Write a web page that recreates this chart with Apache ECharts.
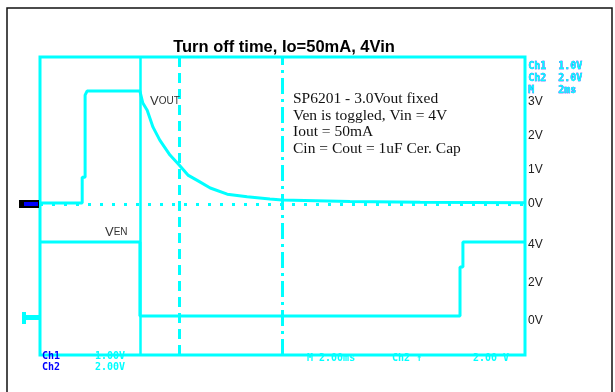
<!DOCTYPE html>
<html>
<head>
<meta charset="utf-8">
<script src="https://cdn.jsdelivr.net/npm/echarts@6/dist/echarts.min.js"></script>
<style>
  html, body { margin: 0; padding: 0; background: #fff; }
  #container { width: 615px; height: 392px; }
</style>
</head>
<body>
<div id="container"></div>
<script>
// time axis in scope divisions (0..10)
var voutX = [0, 0.87, 0.87, 0.93, 0.93, 0.97, 2.06, 2.10, 2.12, 2.21, 2.33, 2.47, 2.68, 2.87, 3.05, 3.26, 3.51, 3.86, 4.27, 4.74, 4.99, 6.39, 7.84, 10];
var voutV = [0.03, 0.03, 0.79, 0.79, 3.20, 3.32, 3.32, 3.29, 2.97, 2.76, 2.26, 1.88, 1.44, 1.15, 0.85, 0.68, 0.47, 0.29, 0.21, 0.15, 0.12, 0.07, 0.05, 0.04];
var venX = [0, 2.06, 2.06, 8.66, 8.66, 8.72, 8.72, 10];
var venV = [4.16, 4.16, 0.26, 0.26, 2.84, 2.84, 4.16, 4.16];
var cursorX = [2.06, 2.87, 4.99];
var voutTicks = ['0V', '1V', '2V', '3V'];
var venTicks = ['0V', '2V', '4V'];
var noteLines = ['SP6201 - 3.0Vout fixed', 'Ven is toggled, Vin = 4V', 'Iout = 50mA', 'Cin = Cout = 1uF Cer. Cap'];

var CYAN = '#00ffff';
var BLUE = '#0000ff';

function pairs(xs, ys) {
  var out = [];
  for (var i = 0; i < xs.length; i++) out.push([xs[i], ys[i]]);
  return out;
}

var dom = document.getElementById('container');
var chart = echarts.init(dom);

var xBase = { type: 'value', min: 0, max: 10, show: false };

var option = {
  animation: false,
  title: {
    text: 'Turn off time, Io=50mA, 4Vin',
    left: 279, top: 34, textAlign: 'center',
    textStyle: { fontFamily: 'Liberation Sans, Arial', fontSize: 16.5, fontWeight: 'bold', color: '#000' }
  },
  grid: [
    { left: 40, right: 90, top: 57, height: 298, show: true, borderColor: CYAN, borderWidth: 3, backgroundColor: 'transparent' },
    { left: 40, right: 90, top: 68, height: 136 },
    { left: 40, right: 90, top: 207, height: 114 }
  ],
  xAxis: [
    Object.assign({ gridIndex: 0 }, xBase),
    Object.assign({ gridIndex: 1 }, xBase),
    Object.assign({ gridIndex: 2 }, xBase)
  ],
  yAxis: [
    { gridIndex: 0, type: 'value', min: 0, max: 1, show: false },
    {
      gridIndex: 1, type: 'value', min: 0, max: 4, interval: 1, position: 'right',
      axisLine: { show: false }, axisTick: { show: false }, splitLine: { show: false },
      axisLabel: {
        margin: 3, fontSize: 12, color: '#222', fontFamily: 'Liberation Sans, Arial', padding: [4, 0, 0, 0],
        formatter: function (v) { return voutTicks[v] || ''; }
      }
    },
    {
      gridIndex: 2, type: 'value', min: 0, max: 6, interval: 2, position: 'right',
      axisLine: { show: false }, axisTick: { show: false }, splitLine: { show: false },
      axisLabel: {
        margin: 3, fontSize: 12, color: '#222', fontFamily: 'Liberation Sans, Arial', padding: [2, 0, 0, 0],
        formatter: function (v) { return venTicks[v / 2] || ''; }
      }
    }
  ],
  series: [
    {
      // cursors / trigger line across the whole screen
      type: 'line', xAxisIndex: 0, yAxisIndex: 0, data: [], silent: true,
      markLine: {
        symbol: 'none', silent: true, label: { show: false },
        data: [
          { xAxis: cursorX[0], lineStyle: { color: CYAN, width: 2.5, type: 'solid' } },
          { xAxis: cursorX[1], lineStyle: { color: CYAN, width: 3, type: [10, 6] } },
          { xAxis: cursorX[2], lineStyle: { color: CYAN, width: 3, type: [16, 5, 3, 5] } }
        ]
      }
    },
    {
      name: 'Vout', type: 'line', xAxisIndex: 1, yAxisIndex: 1,
      data: pairs(voutX, voutV), showSymbol: false, clip: false,
      lineStyle: { color: CYAN, width: 3 },
      markLine: {
        symbol: 'none', silent: true, label: { show: false },
        data: [{ yAxis: 0, lineStyle: { color: CYAN, width: 3, type: [3, 9] } }]
      },
      z: 3
    },
    {
      name: 'Ven', type: 'line', xAxisIndex: 2, yAxisIndex: 2,
      data: pairs(venX, venV), showSymbol: false, clip: false,
      lineStyle: { color: CYAN, width: 3 },
      z: 3
    }
  ],
  graphic: [
    { type: 'rect', shape: { x: 7, y: 8, width: 605, height: 400 }, style: { fill: 'none', stroke: '#111', lineWidth: 1.5 }, z: 0 },
    {
      type: 'text', left: 150, top: 95, z: 10,
      style: { text: '{a|V}{b|OUT}', rich: { a: { fontSize: 13, fill: '#333', fontFamily: 'Liberation Sans, Arial' }, b: { fontSize: 10, fill: '#333', fontFamily: 'Liberation Sans, Arial' } } }
    },
    {
      type: 'text', left: 105, top: 226, z: 10,
      style: { text: '{a|V}{b|EN}', rich: { a: { fontSize: 13, fill: '#333', fontFamily: 'Liberation Sans, Arial' }, b: { fontSize: 10, fill: '#333', fontFamily: 'Liberation Sans, Arial' } } }
    },
    {
      type: 'text', left: 293, top: 91, z: 10,
      style: { text: noteLines.join('\n'), fontFamily: 'Liberation Serif, Times New Roman', fontSize: 15.5, lineHeight: 16.5, fill: '#111' }
    },
    // channel ground markers
    { type: 'rect', shape: { x: 19, y: 200, width: 20, height: 8 }, style: { fill: '#000' }, z: 5 },
    { type: 'rect', shape: { x: 24, y: 202, width: 14, height: 4 }, style: { fill: BLUE }, z: 6 },
    { type: 'rect', shape: { x: 22, y: 315, width: 18, height: 5 }, style: { fill: CYAN }, z: 5 },
    { type: 'rect', shape: { x: 22, y: 312, width: 4, height: 12 }, style: { fill: CYAN }, z: 5 },
    // scope readout text
    { type: 'text', left: 528, top: 60, z: 10, style: { text: 'Ch1  1.0V\nCh2  2.0V\nM    2ms', fontFamily: 'DejaVu Sans Mono', fontWeight: 'bold', fontSize: 10, lineHeight: 12, fill: CYAN, stroke: BLUE, lineWidth: 0.4 } },
    { type: 'text', left: 42, top: 351, z: 10, style: { text: 'Ch1\nCh2', fontFamily: 'DejaVu Sans Mono', fontWeight: 'bold', fontSize: 10, lineHeight: 11, fill: BLUE } },
    { type: 'text', left: 95, top: 351, z: 10, style: { text: '1.00V\n2.00V', fontFamily: 'DejaVu Sans Mono', fontWeight: 'bold', fontSize: 10, lineHeight: 11, fill: CYAN } },
    { type: 'text', left: 307, top: 353, z: 10, style: { text: 'M 2.00ms', fontFamily: 'DejaVu Sans Mono', fontWeight: 'bold', fontSize: 10, fill: CYAN } },
    { type: 'text', left: 392, top: 353, z: 10, style: { text: 'Ch2 \u2191', fontFamily: 'DejaVu Sans Mono', fontWeight: 'bold', fontSize: 10, fill: CYAN } },
    { type: 'text', left: 473, top: 353, z: 10, style: { text: '2.00 V', fontFamily: 'DejaVu Sans Mono', fontWeight: 'bold', fontSize: 10, fill: CYAN } }
  ]
};

chart.setOption(option);
</script>
</body>
</html>
